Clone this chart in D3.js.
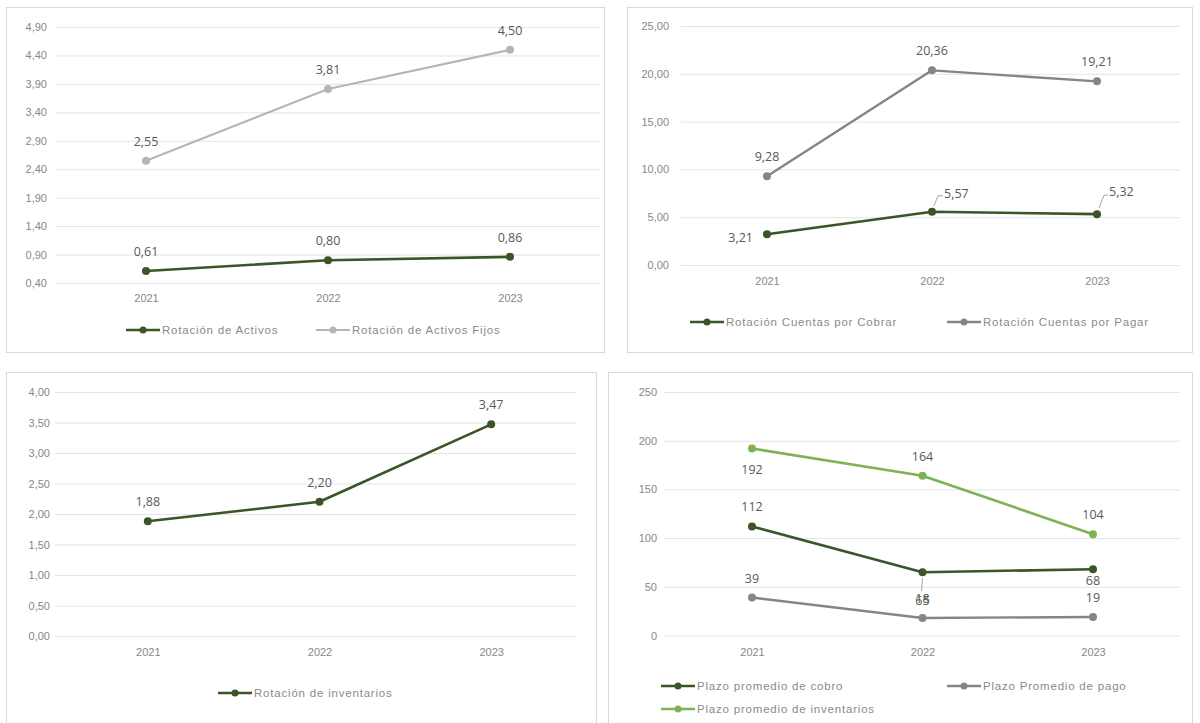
<!DOCTYPE html>
<html>
<head>
<meta charset="utf-8">
<script src="https://cdn.jsdelivr.net/npm/d3@7"></script>
<style>
  html, body { margin: 0; padding: 0; background: #ffffff; }
  svg { display: block; }
</style>
</head>
<body>
<svg id="chart" width="1200" height="723"></svg>
<script>
// ---------------- DATA ----------------
const years = ["2021", "2022", "2023"];

const rotacionActivos       = [0.61, 0.80, 0.86];
const rotacionActivosFijos  = [2.55, 3.81, 4.50];

const rotacionCuentasCobrar = [3.21, 5.57, 5.32];
const rotacionCuentasPagar  = [9.28, 20.36, 19.21];

const rotacionInventarios   = [1.88, 2.20, 3.47];

const plazoCobro            = [112, 65, 68];
const plazoPago             = [39, 18, 19];
const plazoInventarios      = [192, 164, 104];

const ticksPanel1 = [0.40, 0.90, 1.40, 1.90, 2.40, 2.90, 3.40, 3.90, 4.40, 4.90];
const ticksPanel2 = [0, 5, 10, 15, 20, 25];
const ticksPanel3 = [0, 0.5, 1, 1.5, 2, 2.5, 3, 3.5, 4];
const ticksPanel4 = [0, 50, 100, 150, 200, 250];

const namesPanel1 = ["Rotación de Activos", "Rotación de Activos Fijos"];
const namesPanel2 = ["Rotación Cuentas por Cobrar", "Rotación Cuentas por Pagar"];
const namesPanel3 = ["Rotación de inventarios"];
const namesPanel4 = ["Plazo promedio de cobro", "Plazo Promedio de pago", "Plazo promedio de inventarios"];

// ---------------- STYLE ----------------
const DARK_GREEN = "#3a5526";
const LIGHT_GRAY = "#b5b5b5";
const MID_GRAY = "#858585";
const LIGHT_GREEN = "#7db354";

const comma2 = v => d3.format(".2f")(v).replace(".", ",");
const int0 = v => d3.format(".0f")(v);

const svg = d3.select("#chart");

// label placement styles (layout, not data)
const above = { dx: 0, dy: -15, anchor: "middle" };
const below = { dx: 0, dy: 26, anchor: "middle" };

function drawPanel(cfg) {
  const g = svg.append("g");
  g.append("rect")
    .attr("x", cfg.box[0] + 0.5).attr("y", cfg.box[1] + 0.5)
    .attr("width", cfg.box[2]).attr("height", cfg.box[3])
    .attr("fill", "#fff").attr("stroke", "#d9d9d9").attr("stroke-width", 1);

  const x = d3.scalePoint().domain(years).range(cfg.xRange).padding(0.5);
  const y = d3.scaleLinear().domain(cfg.yDomain).range(cfg.yRange);

  // y axis with gridlines
  const yAxis = d3.axisLeft(y)
    .tickValues(cfg.ticks)
    .tickFormat(cfg.tickFmt)
    .tickSize(-(cfg.gridX[1] - cfg.gridX[0]))
    .tickPadding(cfg.gridX[0] - cfg.labelX);
  const ya = g.append("g").attr("transform", `translate(${cfg.gridX[0]},0)`).call(yAxis);
  ya.select(".domain").remove();
  ya.selectAll(".tick line").attr("stroke", "#e4e4e4").attr("stroke-width", 1);
  ya.selectAll(".tick text")
    .attr("fill", "#888").attr("font-family", "Liberation Sans, Arial, sans-serif")
    .attr("font-size", 11);

  // x axis labels
  const xAxis = d3.axisBottom(x).tickSize(0).tickPadding(0);
  const xa = g.append("g").attr("transform", `translate(0,${cfg.xLabelY})`).call(xAxis);
  xa.select(".domain").remove();
  xa.selectAll(".tick text")
    .attr("fill", "#888").attr("font-family", "Liberation Sans, Arial, sans-serif")
    .attr("font-size", 11).attr("dy", "0.35em");

  const line = d3.line().x((d, i) => x(years[i])).y(d => y(d));

  cfg.series.forEach(s => {
    g.append("path").datum(s.values)
      .attr("d", line).attr("fill", "none")
      .attr("stroke", s.color).attr("stroke-width", s.width || 2.5)
      .attr("stroke-linejoin", "round");
    g.selectAll(null).data(s.values).enter().append("circle")
      .attr("cx", (d, i) => x(years[i])).attr("cy", d => y(d))
      .attr("r", 4).attr("fill", s.color);
  });

  // data labels (drawn after all lines)
  cfg.series.forEach(s => {
    s.values.forEach((v, i) => {
      const p = s.labels[i];
      const px = x(years[i]), py = y(v);
      if (p.leader) {
        g.append("polyline")
          .attr("points", p.leader.map(q => `${px + q[0]},${py + q[1]}`).join(" "))
          .attr("fill", "none").attr("stroke", "#a6a6a6").attr("stroke-width", 1);
      }
      g.append("text")
        .attr("x", px + p.dx).attr("y", py + p.dy)
        .attr("text-anchor", p.anchor)
        .attr("font-family", "Open Sans, sans-serif").attr("font-size", 12.5)
        .attr("fill", "#595959")
        .text(cfg.labelFmt(v));
    });
  });

  // legend
  cfg.legend.forEach((L, k) => {
    const s = cfg.series[k];
    const lg = g.append("g").attr("transform", `translate(${L[0]},${L[1]})`);
    lg.append("line").attr("x1", 0).attr("x2", 34).attr("y1", 0).attr("y2", 0)
      .attr("stroke", s.color).attr("stroke-width", s.width || 2.5);
    lg.append("circle").attr("cx", 17).attr("cy", 0).attr("r", 3.5).attr("fill", s.color);
    lg.append("text").attr("x", 36).attr("y", 4)
      .attr("font-family", "Liberation Sans, Arial, sans-serif").attr("font-size", 11.5)
      .attr("letter-spacing", 0.8)
      .attr("fill", "#8a8a8a").text(s.name);
  });
}

// Panel 1
drawPanel({
  box: [6, 7, 598, 345],
  xRange: [55, 601], yDomain: [0.4, 4.9], yRange: [283, 27],
  gridX: [55, 600], labelX: 47, ticks: ticksPanel1, tickFmt: comma2,
  xLabelY: 298, labelFmt: comma2,
  series: [
    { name: namesPanel1[0], values: rotacionActivos, color: DARK_GREEN, width: 2.6,
      labels: [above, above, above] },
    { name: namesPanel1[1], values: rotacionActivosFijos, color: LIGHT_GRAY, width: 2.2,
      labels: [above, above, above] }
  ],
  legend: [[126, 330], [316, 330]]
});

// Panel 2
drawPanel({
  box: [627, 7, 565, 345],
  xRange: [684.5, 1179.5], yDomain: [0, 25], yRange: [265, 26],
  gridX: [681, 1180], labelX: 669, ticks: ticksPanel2, tickFmt: comma2,
  xLabelY: 281, labelFmt: comma2,
  series: [
    { name: namesPanel2[0], values: rotacionCuentasCobrar, color: DARK_GREEN, width: 2.6,
      labels: [
        { dx: -14, dy: 8, anchor: "end" },
        { dx: 12, dy: -14, anchor: "start", leader: [[2, -6], [6, -16], [11, -16]] },
        { dx: 12, dy: -18, anchor: "start", leader: [[2, -6], [7, -19], [11, -19]] }
      ] },
    { name: namesPanel2[1], values: rotacionCuentasPagar, color: MID_GRAY, width: 2.4,
      labels: [above, above, above] }
  ],
  legend: [[690, 322], [947, 322]]
});

// Panel 3
drawPanel({
  box: [6, 372, 590, 360],
  xRange: [62, 577], yDomain: [0, 4], yRange: [636, 392],
  gridX: [55, 576], labelX: 50, ticks: ticksPanel3, tickFmt: comma2,
  xLabelY: 652, labelFmt: comma2,
  series: [
    { name: namesPanel3[0], values: rotacionInventarios, color: DARK_GREEN, width: 2.6,
      labels: [above, above, above] }
  ],
  legend: [[218, 693]]
});

// Panel 4
drawPanel({
  box: [608, 372, 584, 360],
  xRange: [666.75, 1178.25], yDomain: [0, 250], yRange: [635.5, 392],
  gridX: [664, 1180], labelX: 657, ticks: ticksPanel4, tickFmt: int0,
  xLabelY: 652, labelFmt: int0,
  series: [
    { name: namesPanel4[0], values: plazoCobro, color: DARK_GREEN, width: 2.6,
      labels: [above, { dx: 0, dy: 33, anchor: "middle", leader: [[0, 6], [-1, 19]] },
               { dx: 0, dy: 16, anchor: "middle" }] },
    { name: namesPanel4[1], values: plazoPago, color: MID_GRAY, width: 2.4,
      labels: [above, above, above] },
    { name: namesPanel4[2], values: plazoInventarios, color: LIGHT_GREEN, width: 2.6,
      labels: [below, above, above] }
  ],
  legend: [[661, 686], [947, 686], [661, 709]]
});
</script>
</body>
</html>
